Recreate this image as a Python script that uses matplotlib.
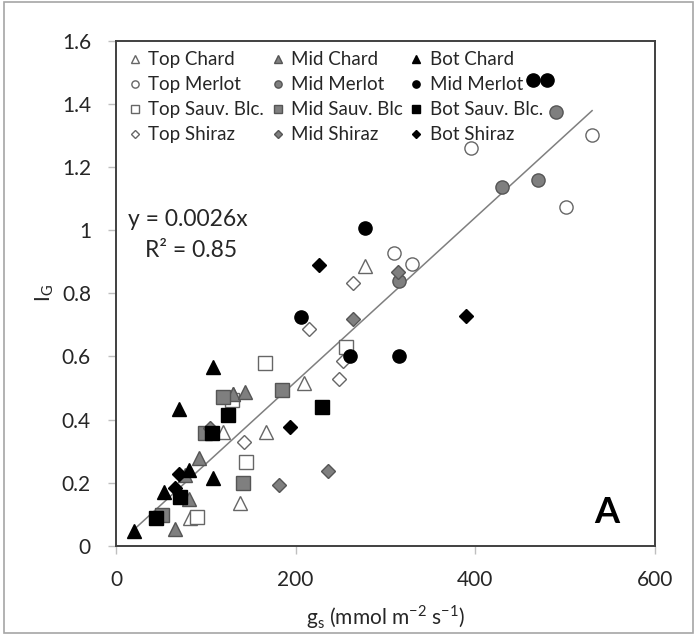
import matplotlib.pyplot as plt
from matplotlib.patches import Rectangle
from matplotlib.legend import Legend
import numpy as np

plt.rcParams['font.family'] = ['Lato', 'DejaVu Sans']

# gs (mmol m-2 s-1) and IG values per series
top_chard_x = [82, 130, 119, 138, 167, 209, 277]
top_chard_y = [0.09, 0.48, 0.36, 0.135, 0.36, 0.515, 0.886]
top_merlot_x = [530, 395, 501, 310, 330]
top_merlot_y = [1.30, 1.26, 1.073, 0.926, 0.892]
top_sauv_x = [166, 256, 145, 90, 129]
top_sauv_y = [0.58, 0.63, 0.266, 0.092, 0.462]
top_shiraz_x = [264, 215, 253, 248, 143]
top_shiraz_y = [0.832, 0.687, 0.586, 0.528, 0.33]

mid_chard_x = [66, 81, 77, 92, 130, 144]
mid_chard_y = [0.053, 0.15, 0.225, 0.28, 0.48, 0.488]
mid_merlot_x = [490, 430, 470, 315]
mid_merlot_y = [1.373, 1.136, 1.16, 0.838]
mid_sauv_x = [185, 119, 141, 51, 99]
mid_sauv_y = [0.494, 0.472, 0.2, 0.098, 0.357]
mid_shiraz_x = [314, 264, 236, 181, 105]
mid_shiraz_y = [0.867, 0.718, 0.237, 0.192, 0.373]

bot_chard_x = [108, 70, 108, 81, 53, 20.5]
bot_chard_y = [0.566, 0.433, 0.215, 0.24, 0.17, 0.048]
bot_merlot_x = [464, 480, 277, 206, 261, 315]
bot_merlot_y = [1.475, 1.475, 1.007, 0.725, 0.60, 0.60]
bot_sauv_x = [229, 125, 107, 71, 44]
bot_sauv_y = [0.44, 0.415, 0.357, 0.155, 0.088]
bot_shiraz_x = [226, 194, 390, 70, 66]
bot_shiraz_y = [0.889, 0.377, 0.728, 0.228, 0.184]

slope = 0.0026
r2 = 0.85

# (label, x, y, marker, face, edge)
series = [
    ("Top Chard", top_chard_x, top_chard_y, "^", "white", "#666666"),
    ("Top Merlot", top_merlot_x, top_merlot_y, "o", "white", "#666666"),
    ("Top Sauv. Blc.", top_sauv_x, top_sauv_y, "s", "white", "#666666"),
    ("Top Shiraz", top_shiraz_x, top_shiraz_y, "D", "white", "#666666"),
    ("Mid Chard", mid_chard_x, mid_chard_y, "^", "#7f7f7f", "#555555"),
    ("Mid Merlot", mid_merlot_x, mid_merlot_y, "o", "#7f7f7f", "#555555"),
    ("Mid Sauv. Blc", mid_sauv_x, mid_sauv_y, "s", "#7f7f7f", "#555555"),
    ("Mid Shiraz", mid_shiraz_x, mid_shiraz_y, "D", "#7f7f7f", "#555555"),
    ("Bot Chard", bot_chard_x, bot_chard_y, "^", "black", "black"),
    ("Mid Merlot", bot_merlot_x, bot_merlot_y, "o", "black", "black"),
    ("Bot Sauv. Blc.", bot_sauv_x, bot_sauv_y, "s", "black", "black"),
    ("Bot Shiraz", bot_shiraz_x, bot_shiraz_y, "D", "black", "black"),
]
sizes = {"^": 10, "o": 9.5, "s": 9.5, "D": 7}

fig = plt.figure(figsize=(6.97, 6.36), dpi=100)
ax = fig.add_axes([0.1664, 0.1415, 0.7733, 0.7948])

# outer chart border
fig.patches.append(Rectangle((0.006, 0.004), 0.988, 0.993, transform=fig.transFigure,
                             fill=False, edgecolor="#a6a6a6", linewidth=1.2))

all_x = []
handles = []
for label, xs, ys, mk, fc, ec in series:
    h, = ax.plot(xs, ys, linestyle="none", marker=mk, markersize=sizes[mk],
                 markerfacecolor=fc, markeredgecolor=ec, markeredgewidth=1.0,
                 label=label, zorder=3)
    handles.append(h)
    all_x += xs

# trendline through origin, drawn over the data range
xl = np.array([min(all_x), max(all_x)])
ax.plot(xl, slope * xl, color="#7f7f7f", linewidth=1.1, zorder=2)

ax.set_xlim(0, 600)
ax.set_ylim(0, 1.6)
ax.set_xticks([0, 200, 400, 600])
ax.set_yticks(np.arange(0, 1.61, 0.2))
ax.set_yticklabels(["0", "0.2", "0.4", "0.6", "0.8", "1", "1.2", "1.4", "1.6"])
ax.tick_params(direction="out", length=6, width=1, color="#bfbfbf",
               labelsize=15, labelcolor="#262626")
ax.tick_params(axis="y", pad=12)
ax.tick_params(axis="x", pad=11)
for s in ax.spines.values():
    s.set_color("#404040")
    s.set_linewidth(1.4)

ax.set_xlabel(r"g$_\mathregular{s}$ (mmol m$^\mathregular{-2}$ s$^\mathregular{-1}$)",
              fontsize=15, color="#262626", va="baseline")
ax.xaxis.set_label_coords(0.5, -0.156)
ax.set_ylabel(r"I$_\mathregular{G}$", fontsize=15, color="#262626", va="center")
ax.yaxis.set_label_coords(-0.132, 0.5)

ax.text(0.022, 0.645, "y = 0.0026x", transform=ax.transAxes, fontsize=16.5,
        color="#262626", va="center")
ax.text(0.054, 0.584, "R² = %.2f" % r2, transform=ax.transAxes, fontsize=16.5,
        color="#262626", va="center")
ax.text(0.91, 0.067, "A", transform=ax.transAxes, fontsize=26, fontweight="bold",
        color="black", ha="center", va="center")

# one legend per column (Top / Mid / Bot), placed like the original
col_x = [0.025, 0.29, 0.547]
for i, cx in enumerate(col_x):
    hs = handles[4 * i:4 * i + 4]
    leg = Legend(ax, hs, [h.get_label() for h in hs], loc="upper left",
                 bbox_to_anchor=(cx, 0.979), frameon=False, fontsize=13.5,
                 markerscale=0.55, handlelength=0.6, handletextpad=0.4,
                 labelspacing=0.43, borderpad=0, borderaxespad=0)
    for t in leg.get_texts():
        t.set_color("#262626")
    ax.add_artist(leg)

fig.savefig("out.png", dpi=100)
